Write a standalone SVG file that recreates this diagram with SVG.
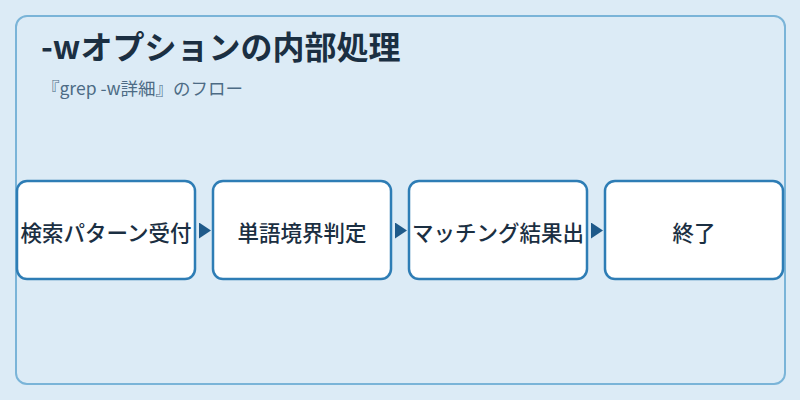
<svg xmlns="http://www.w3.org/2000/svg" width="800" height="400" viewBox="0 0 800 400">
<defs>
<style>
.title{font-family:"Noto Sans CJK JP","Noto Sans",sans-serif;font-size:32px;font-weight:700;fill:#1b2f42}
.sub{font-family:"Noto Sans CJK JP","Noto Sans",sans-serif;font-size:17.5px;fill:#4d6b85}
.box{fill:#ffffff;stroke:#2e7db5;stroke-width:2.5}
.lbl{font-family:"Noto Sans CJK JP","Noto Sans",sans-serif;font-size:21.5px;font-weight:500;fill:#1b2f42;text-anchor:middle;dominant-baseline:central}
.edge{stroke:#1f5a8a;stroke-width:0;fill:none}
</style>
<marker id="arr" viewBox="0 0 12 16" refX="12" refY="8" markerWidth="12" markerHeight="16" markerUnits="userSpaceOnUse" orient="auto">
<path d="M0,0 L12,8 L0,16 Z" fill="#1f5a8a"/>
</marker>
</defs>
<rect width="800" height="400" fill="#dcebf6"/>
<rect x="16" y="16" width="769" height="368" rx="11" fill="#dcebf6" stroke="#7ab4d8" stroke-width="2"/>
<text class="title" x="41" y="59">-wオプションの内部処理</text>
<text class="sub" x="42" y="95">『grep -w詳細』のフロー</text>
<g id="connectors">
<line class="edge" x1="198" y1="230.5" x2="211" y2="230.5" marker-end="url(#arr)"/>
<line class="edge" x1="394" y1="230.5" x2="407" y2="230.5" marker-end="url(#arr)"/>
<line class="edge" x1="590" y1="230.5" x2="603" y2="230.5" marker-end="url(#arr)"/>
</g>
<g id="node1"><rect class="box" x="17" y="181" width="178" height="98" rx="10"/><text class="lbl" x="106" y="231">検索パターン受付</text></g>
<g id="node2"><rect class="box" x="213" y="181" width="178" height="98" rx="10"/><text class="lbl" x="302" y="231">単語境界判定</text></g>
<g id="node3"><rect class="box" x="409" y="181" width="178" height="98" rx="10"/><text class="lbl" x="498" y="231">マッチング結果出</text></g>
<g id="node4"><rect class="box" x="605" y="181" width="178" height="98" rx="10"/><text class="lbl" x="694" y="231">終了</text></g>
</svg>
